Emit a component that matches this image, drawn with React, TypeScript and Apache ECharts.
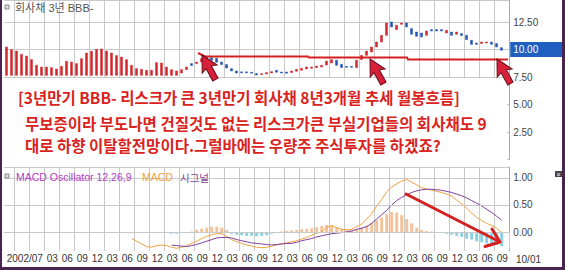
import React, { useEffect, useRef } from 'react';
import * as echarts from 'echarts';

// ---------- categories ----------
const START_YEAR = 2002;
const START_MONTH = 7;
const CATEGORY_COUNT = 101;
const months: string[] = [];
for (let k = 0; k < CATEGORY_COUNT; k++) {
  const m0 = START_MONTH - 1 + k;
  const y = START_YEAR + Math.floor(m0 / 12);
  const m = (m0 % 12) + 1;
  months.push(`${y}/${String(m).padStart(2, '0')}`);
}
const QUARTER_MONTHS = ['03', '06', '09', '12'];
const FIRST_LABEL_INDEX = 8; // 2003/03
const END_LABEL = '10/01';

// ---------- price (monthly) ----------
const barBase = 7.65;
const barTops = [
  10.23, 9.99, 9.86, 9.56, 9.41, 9.08, 8.56, 8.41, 8.41, 8.35,
  8.23, 8.47, 8.93, 8.86, 8.72, 9.17, 9.68, 9.84, 10.02, 10.05,
  9.86, 9.68, 9.45, 9.32, 9.08, 8.56, 8.26, 8.2, 8.11, 8.11,
  8.81, 8.77, 8.41, 8.17, 8.05,
];
const candleOpen = [
  7.86, 8.17, 8.72, 8.72, 8.86, 9.11, 9.25, 9.2, 8.86, 8.63,
  8.26, 8.05, 7.97, 7.97, 7.93, 7.81, 7.72, 7.77, 7.86, 8.11,
  7.95, 7.95, 7.9, 8.02, 8.11, 8.23, 8.29, 8.35, 8.41, 8.59,
  8.77, 9.02, 8.65, 8.47, 8.47, 8.35, 9.08, 9.47, 9.77, 10.23,
  10.68, 11.29, 12.5, 11.81, 12.29, 12.41, 11.9, 11.59, 11.5, 11.29,
  11.81, 11.81, 11.81, 11.5, 11.59, 11.38, 11.45, 11.29, 10.84, 10.59,
  10.54, 10.59, 10.68, 10.54, 10.17,
];
const candleClose = [
  8.17, 8.41, 8.54, 8.86, 9.17, 9.29, 9.02, 8.84, 8.63, 8.32,
  8.05, 7.86, 7.88, 7.88, 7.84, 7.68, 7.81, 7.9, 7.99, 7.93,
  7.86, 7.84, 8.05, 8.2, 8.29, 8.41, 8.41, 8.5, 8.56, 8.95,
  9.08, 8.56, 8.35, 8.38, 8.38, 9.02, 9.47, 9.86, 10.23, 10.68,
  11.29, 12.41, 12.05, 12.2, 12.41, 12.05, 11.38, 11.2, 11.14, 11.68,
  11.68, 11.68, 11.68, 11.75, 11.29, 11.59, 11.26, 10.9, 10.47, 10.47,
  10.68, 10.68, 10.47, 10.23, 9.93,
];
const currentValue = 10.0;
const priceTickLabels = [2.5, 5, 7.5, 12.5];

// ---------- MACD ----------
const MACD_START = 25;
const macdLine = [
  -0.12, -0.17, -0.22, -0.27, -0.28, -0.25, -0.24, -0.25, -0.28, -0.3,
  -0.28, -0.25, -0.21, -0.17, -0.12, -0.08, -0.05, -0.03, -0.03, -0.08,
  -0.14, -0.18, -0.21, -0.24, -0.26, -0.28, -0.29, -0.28, -0.26, -0.24,
  -0.22, -0.2, -0.18, -0.16, -0.13, -0.1, -0.06, -0.02, 0.0, 0.09,
  0.12, 0.08, 0.05, 0.04, 0.05, 0.1, 0.15, 0.24, 0.34, 0.48,
  0.6, 0.74, 0.83, 0.89, 0.94, 0.97, 0.92, 0.87, 0.82, 0.79,
  0.77, 0.75, 0.73, 0.7, 0.66, 0.59, 0.52, 0.44, 0.35, 0.27,
  0.21, 0.16, 0.12, 0.07, -0.01,
];
const SIGNAL_START = 33;
const signalLine = [
  -0.24, -0.25, -0.26, -0.27, -0.25, -0.23, -0.2, -0.17, -0.14, -0.11,
  -0.1, -0.1, -0.11, -0.14, -0.16, -0.18, -0.2, -0.21, -0.22, -0.23,
  -0.24, -0.23, -0.22, -0.21, -0.21, -0.19, -0.16, -0.14, -0.12, -0.09,
  -0.07, -0.05, -0.03, -0.02, -0.01, 0.0, 0.02, 0.05, 0.07, 0.1,
  0.16, 0.24, 0.32, 0.4, 0.5, 0.58, 0.64, 0.69, 0.73, 0.76,
  0.78, 0.79, 0.79, 0.78, 0.77, 0.75, 0.73, 0.7, 0.67, 0.63,
  0.58, 0.53, 0.48, 0.42, 0.36, 0.29, 0.22,
];
const OSC_START = 33;
const oscillator = [
  -0.03, -0.03, -0.02, -0.02, 0.01, 0.04, 0.06, 0.08, 0.1, 0.1,
  0.08, 0.04, -0.03, -0.05, -0.06, -0.07, -0.07, -0.08, -0.07, -0.06,
  -0.03, -0.01, 0.01, 0.02, 0.03, 0.04, 0.05, 0.06, 0.07, 0.09,
  0.11, 0.13, 0.12, 0.09, 0.06, 0.04, 0.03, 0.05, 0.08, 0.12,
  0.17, 0.22, 0.27, 0.33, 0.37, 0.36, 0.31, 0.24, 0.16, 0.08,
  0.04, 0.02, 0.01, 0.0, -0.01, -0.03, -0.05, -0.07, -0.09, -0.12,
  -0.14, -0.17, -0.19, -0.21, -0.22, -0.24, -0.26,
];
const macdMin = -0.35;
const macdMax = 1.2;
const macdTickLabels = [0, 0.5, 1];

// ---------- texts ----------
const priceTitle = '회사채 3년 BBB-';
const oscTitle = 'MACD Oscillator 12,26,9';
const macdTitle = 'MACD';
const signalTitle = '시그널';
const noteLines = [
  '[3년만기 BBB- 리스크가 큰 3년만기 회사채 8년3개월 추세 월봉흐름]',
  '무보증이라 부도나면 건질것도 없는 리스크가큰 부실기업들의 회사채도 9',
  '대로 하향 이탈할전망이다.그럴바에는 우량주 주식투자를 하겠죠?',
];

const RED = '#d2262a';
const BLUE = '#2352b8';
const NOTE_RED = '#d9231c';
const GRID = '#c9c9c9';
const AXIS = '#a8a8a8';
const LATIN = "'Liberation Sans', 'Noto Sans CJK KR', sans-serif";
const KR = "'Noto Sans CJK KR', sans-serif";

function pad(start: number, arr: number[]): (number | null)[] {
  const out: (number | null)[] = [];
  for (let k = 0; k < start; k++) out.push(null);
  return out.concat(arr);
}

const isQuarter = (idx: number) => QUARTER_MONTHS.includes(months[idx]?.slice(5));

const cursorPts = [[0, 0], [8.5, 16], [3, 14], [3, 28], [-3, 28], [-3, 14], [-8.5, 16]];
function cursor(x: number, y: number) {
  return {
    type: 'polygon', x, y, rotation: 0.5, z: 14,
    shape: { points: cursorPts },
    style: { fill: '#d8203a', stroke: '#6a0f1c', lineWidth: 1 },
  };
}

export default function App() {
  const ref = useRef<HTMLDivElement>(null);
  useEffect(() => {
    if (!ref.current) return;
    const chart = echarts.init(ref.current, undefined, { renderer: 'svg' });

    const ohlc: number[][] = [];
    barTops.forEach((v) => ohlc.push([barBase, v, barBase, v]));
    candleOpen.forEach((o, k) => {
      const c = candleClose[k];
      ohlc.push([o, c, Math.min(o, c), Math.max(o, c)]);
    });

    const splitLine = { show: true, interval: (i: number) => isQuarter(i), lineStyle: { color: GRID, width: 1 } };
    const noteStyle = { fill: NOTE_RED, fontSize: 15.5, fontWeight: 'bold', fontFamily: KR, verticalAlign: 'middle' };

    const option: any = {
      animation: false,
      backgroundColor: '#fff',
      grid: [
        { left: 4.2, top: 0, width: 505, height: 159.5, outerBoundsMode: 'none' },
        { left: 4.2, top: 167, width: 505, height: 84, outerBoundsMode: 'none' },
      ],
      xAxis: [
        {
          type: 'category', gridIndex: 0, data: months, boundaryGap: true,
          axisLine: { show: false }, axisTick: { show: false }, axisLabel: { show: false },
          splitLine,
        },
        {
          type: 'category', gridIndex: 1, data: months, boundaryGap: true,
          axisLine: { show: true, lineStyle: { color: AXIS } },
          axisTick: { show: true, interval: (i: number) => isQuarter(i), length: 16, lineStyle: { color: GRID } },
          axisLabel: {
            show: true,
            interval: (i: number) => i === 0 || (i >= FIRST_LABEL_INDEX && isQuarter(i)),
            formatter: (v: string, i: number) => (i === 0 ? v : v.slice(5)),
            align: 'left', margin: 2, fontSize: 10, color: '#333', fontFamily: LATIN,
          },
          splitLine,
        },
      ],
      yAxis: [
        {
          type: 'value', gridIndex: 0, position: 'right', min: 0, max: 14.5, interval: 2.5,
          axisLine: { show: true, lineStyle: { color: AXIS } }, axisTick: { show: false },
          axisLabel: {
            margin: 4, fontSize: 10, color: '#444', fontFamily: LATIN,
            formatter: (v: number) => (priceTickLabels.includes(v) ? v.toFixed(2) : ''),
          },
          splitLine: { show: true, lineStyle: { color: GRID } },
        },
        {
          type: 'value', gridIndex: 1, position: 'right', min: macdMin, max: macdMax,
          axisLine: { show: true, lineStyle: { color: AXIS } }, axisTick: { show: false, customValues: macdTickLabels },
          axisLabel: {
            margin: 4, fontSize: 10, color: '#444', fontFamily: LATIN,
            customValues: macdTickLabels,
            formatter: (v: number) => v.toFixed(2),
          },
          splitLine: { show: false },
        },
      ],
      series: [
        {
          type: 'candlestick', xAxisIndex: 0, yAxisIndex: 0, data: ohlc, barWidth: 3,
          itemStyle: { color: RED, color0: BLUE, borderColor: RED, borderColor0: BLUE, borderWidth: 0.5 },
          markLine: {
            silent: true, symbol: 'none', animation: false,
            lineStyle: { width: 0, color: 'rgba(0,0,0,0)' },
            data: [{ yAxis: currentValue }],
            label: {
              show: true, position: 'end', distance: 1,
              formatter: () => currentValue.toFixed(2),
              color: '#fff', backgroundColor: '#1f5fc0', padding: [3, 40, 2, 3],
              fontSize: 10, fontFamily: LATIN,
            },
          },
        },
        {
          type: 'bar', xAxisIndex: 1, yAxisIndex: 1, data: pad(OSC_START, oscillator), barWidth: 3,
          itemStyle: { color: (p: any) => (p.value >= 0 ? '#f3c39c' : '#8ccfe2') },
          markLine: {
            silent: true, symbol: 'none', animation: false,
            lineStyle: { color: GRID, type: 'solid', width: 1 },
            label: { show: false },
            data: [{ yAxis: 0 }, { yAxis: 0.5 }, { yAxis: 1 }, { yAxis: macdMax }],
          },
        },
        {
          type: 'line', xAxisIndex: 1, yAxisIndex: 1, data: pad(MACD_START, macdLine),
          symbol: 'none', lineStyle: { color: '#f0a040', width: 1 }, z: 3,
        },
        {
          type: 'line', xAxisIndex: 1, yAxisIndex: 1, data: pad(SIGNAL_START, signalLine),
          symbol: 'none', lineStyle: { color: '#7d3f9a', width: 1 }, z: 3,
        },
      ],
      graphic: [
        { type: 'rect', z: 10, shape: { x: 3, y: 78, width: 504, height: 88 }, style: { fill: '#fff' } },
        { type: 'text', z: 11, x: 18, y: 97, style: { text: noteLines[0], ...noteStyle } },
        { type: 'text', z: 11, x: 25, y: 122.5, style: { text: noteLines[1], ...noteStyle } },
        { type: 'text', z: 11, x: 25, y: 145, style: { text: noteLines[2], ...noteStyle } },
        // legends
        { type: 'rect', z: 11, shape: { x: 5, y: 5, width: 4, height: 4 }, style: { fill: '#ddd', stroke: '#888', lineWidth: 1 } },
        { type: 'text', z: 11, x: 15, y: 8, style: { text: priceTitle, fill: '#555', fontSize: 11, fontFamily: LATIN, verticalAlign: 'middle' } },
        { type: 'rect', z: 11, shape: { x: 5, y: 174, width: 4, height: 4 }, style: { fill: '#ddd', stroke: '#888', lineWidth: 1 } },
        { type: 'text', z: 11, x: 16, y: 177, style: { text: oscTitle, fill: '#b03cc4', fontSize: 10.5, fontFamily: LATIN, verticalAlign: 'middle' } },
        { type: 'text', z: 11, x: 142, y: 177, style: { text: macdTitle, fill: '#f0a040', fontSize: 10.5, fontFamily: LATIN, verticalAlign: 'middle' } },
        { type: 'text', z: 11, x: 180, y: 177, style: { text: signalTitle, fill: '#7d3f9a', fontSize: 10.5, fontFamily: KR, verticalAlign: 'middle' } },
        { type: 'text', z: 11, x: 516, y: 259, style: { text: END_LABEL, fill: '#333', fontSize: 10, fontFamily: LATIN, verticalAlign: 'middle' } },
        // close icon
        { type: 'rect', z: 11, shape: { x: 555, y: 171, width: 7, height: 6 }, style: { fill: '#444' } },
        { type: 'text', z: 12, x: 558.5, y: 174, style: { text: '×', fill: '#fff', fontSize: 7, fontFamily: LATIN, align: 'center', verticalAlign: 'middle' } },
        // support line
        {
          type: 'polyline', z: 12,
          shape: { points: [[198, 53], [205, 56.5], [308, 56.5], [309, 57.5], [407, 57.5], [408, 59.5], [508, 59.5]] },
          style: { stroke: '#d42020', lineWidth: 2, fill: 'none' },
        },
        cursor(202, 55),
        cursor(370, 59),
        cursor(497, 59),
        // MACD arrow
        { type: 'line', z: 12, shape: { x1: 406, y1: 194, x2: 499, y2: 241.5 }, style: { stroke: '#d42020', lineWidth: 3, lineCap: 'round' } },
        {
          type: 'polyline', z: 12,
          shape: { points: [[485, 246.5], [500, 242], [492, 229]] },
          style: { stroke: '#d42020', lineWidth: 3, fill: 'none', lineCap: 'round', lineJoin: 'round' },
        },
      ],
    };
    chart.setOption(option);
    return () => chart.dispose();
  }, []);

  return (
    <div style={{ position: 'fixed', left: 0, top: 0, width: 565, height: 270, background: '#fff' }}>
      <div ref={ref} style={{ position: 'absolute', left: 0, top: 0, width: 565, height: 270 }} />
      <div
        style={{
          position: 'absolute', left: 0, top: 0, width: 565, height: 270, boxSizing: 'border-box',
          borderLeft: '2px solid #4a2352', borderRight: '3px solid #4a2352', borderBottom: '3px solid #4a2352',
          pointerEvents: 'none',
        }}
      />
    </div>
  );
}
